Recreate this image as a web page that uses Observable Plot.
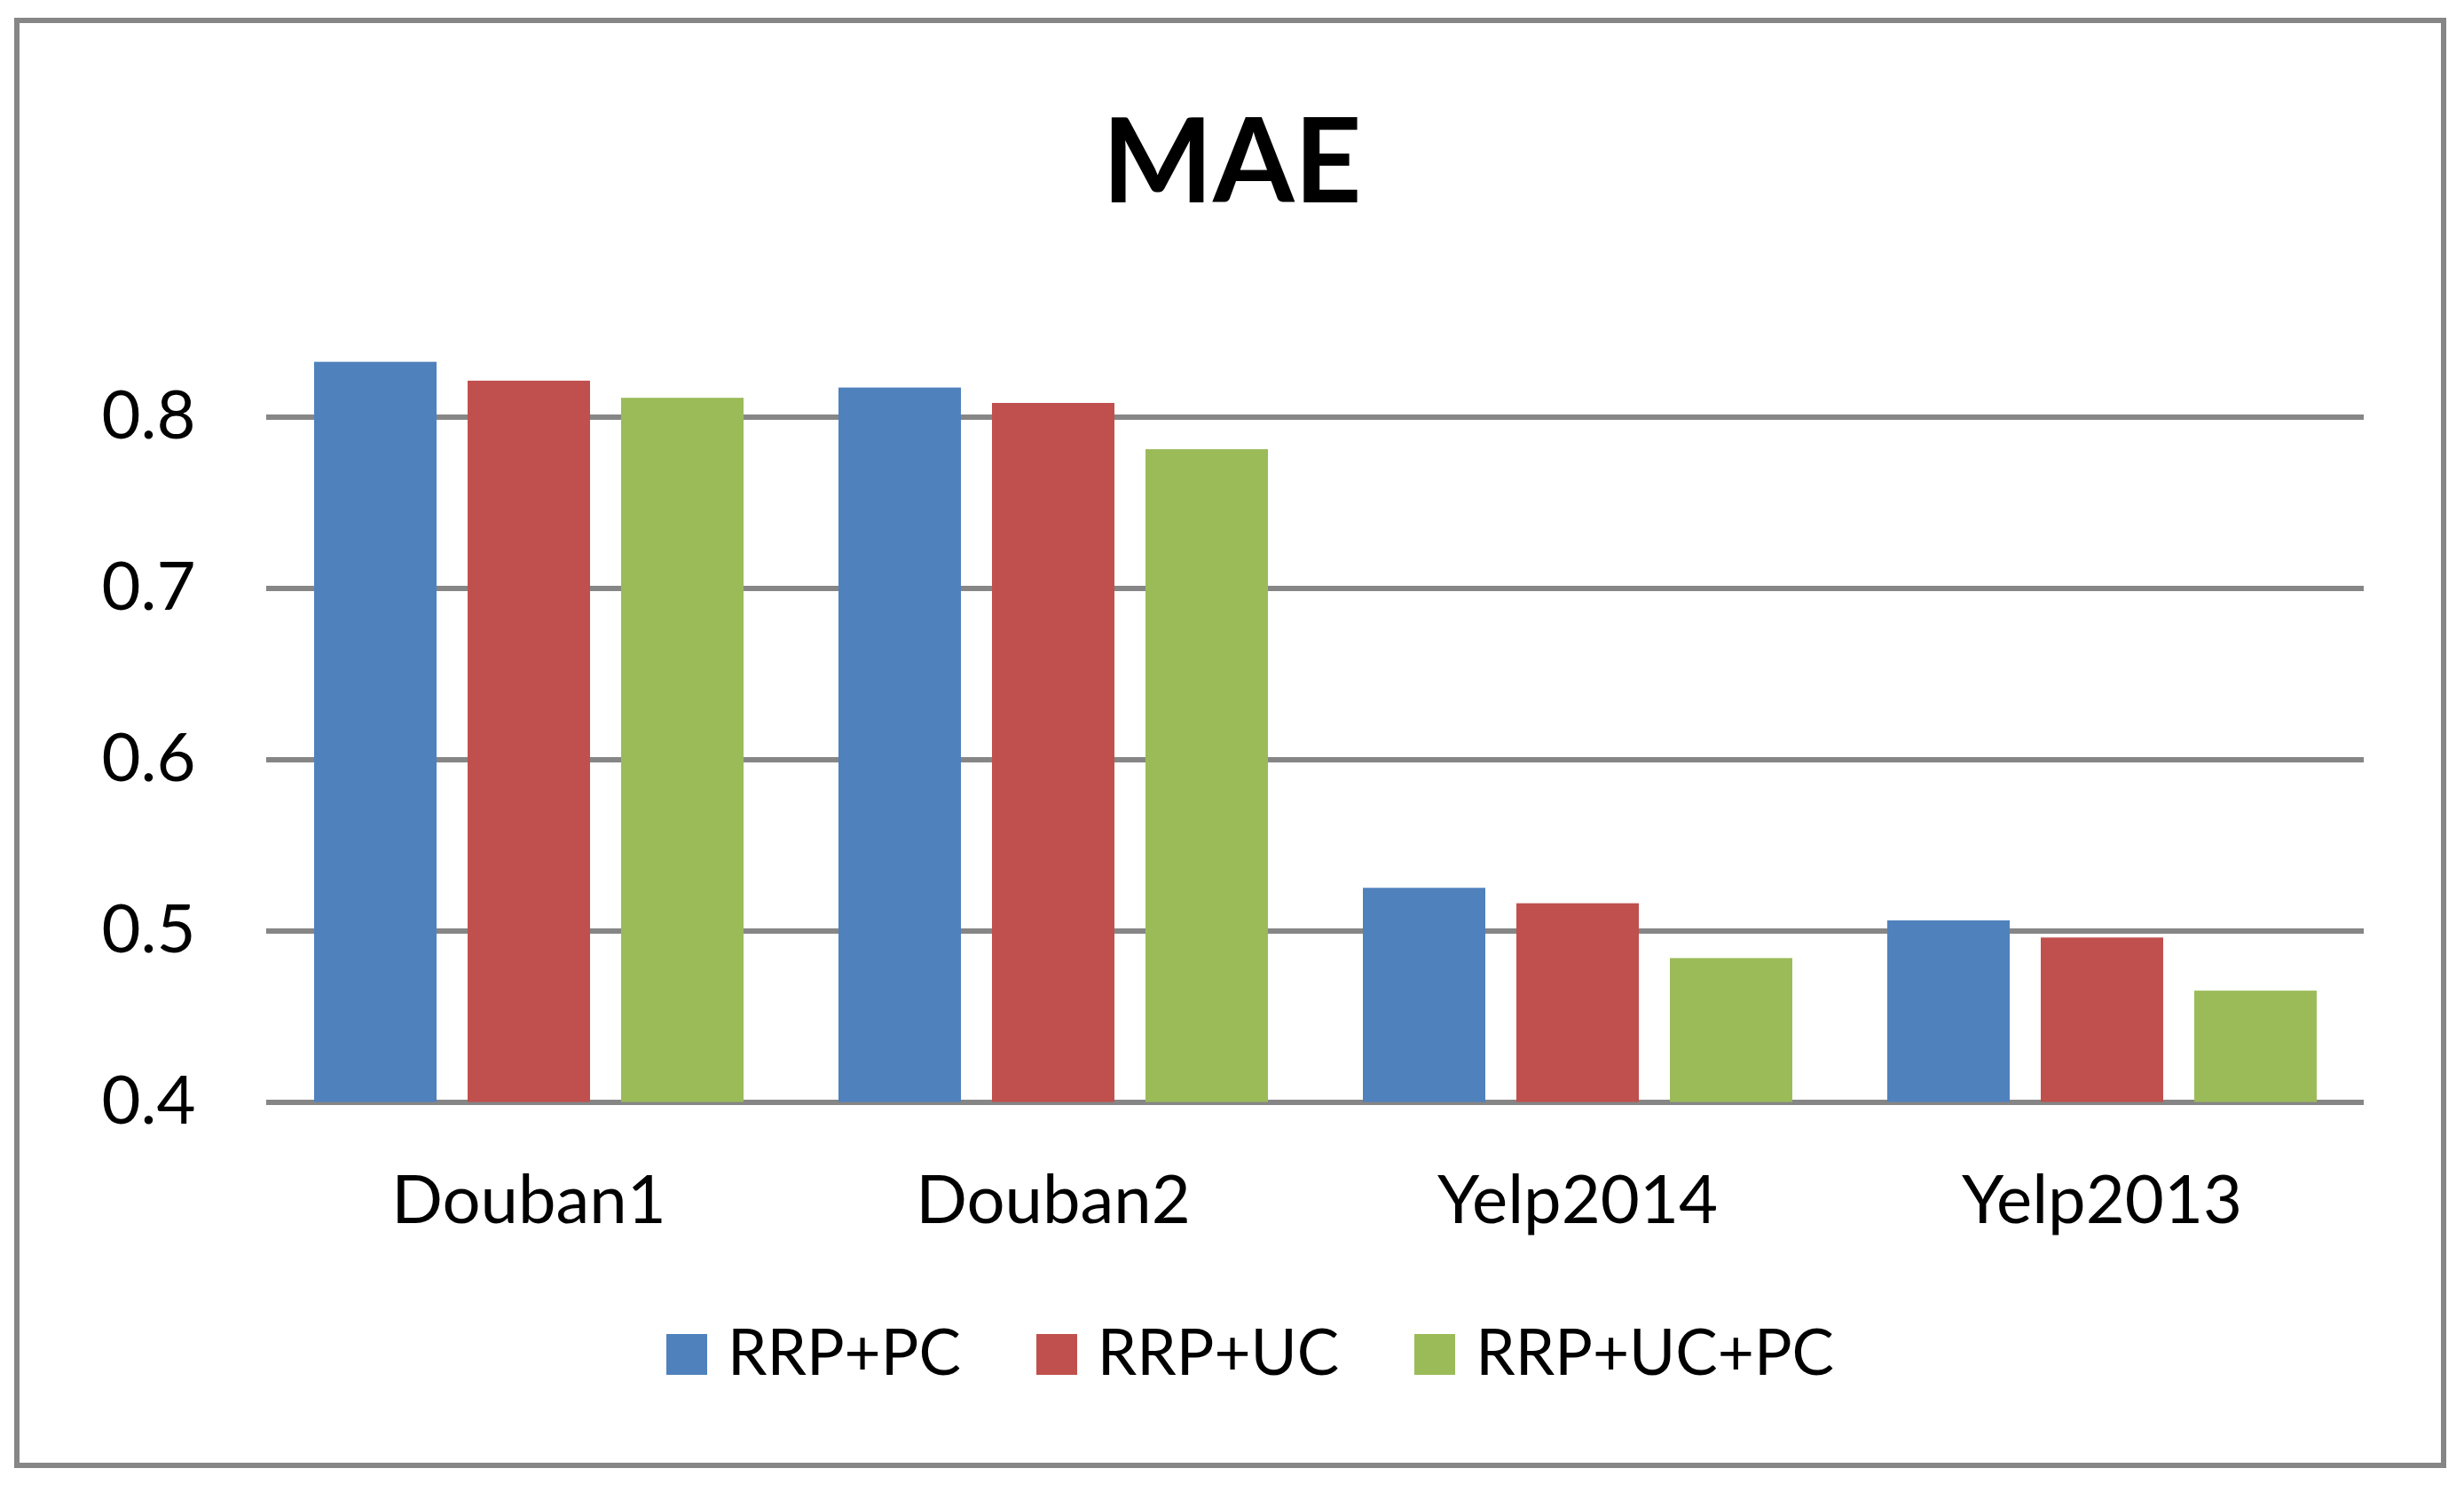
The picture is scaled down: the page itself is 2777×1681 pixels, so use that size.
<!DOCTYPE html>
<html>
<head>
<meta charset="utf-8">
<script src="https://cdn.jsdelivr.net/npm/d3@7"></script>
<script src="https://cdn.jsdelivr.net/npm/@observablehq/plot@0.6"></script>
<style>
  html, body { margin: 0; padding: 0; background: #fff; }
  #wrap { position: relative; width: 2777px; height: 1681px; overflow: hidden; font-family: Lato, "Open Sans", sans-serif; }
  #frame { position: absolute; left: 16px; top: 20px; width: 2741px; height: 1634px; box-sizing: border-box; border: 6px solid #868686; z-index: 3; pointer-events: none; }
  #title { position: absolute; left: 0; top: 111px; width: 2777px; text-align: center; font: 700 132px/1 Lato, sans-serif; color: #000; z-index: 2; }
  #chart { position: absolute; left: 0; top: 300px; z-index: 1; }
  #legend { position: absolute; left: 751px; top: 1486px; display: flex; align-items: flex-start; z-index: 2; }
  .item { display: flex; align-items: flex-start; margin-right: 85px; }
  .sw { width: 46px; height: 46px; margin-top: 17px; margin-right: 23px; }
  .lab { font: 400 71px/1 Lato, sans-serif; color: #000; white-space: nowrap; }
</style>
</head>
<body>
<div id="wrap">
  <div id="frame"></div>
  <div id="title"></div>
  <div id="chart"></div>
  <div id="legend"></div>
</div>
<script>
const titleText = "MAE";
const categories = ["Douban1", "Douban2", "Yelp2014", "Yelp2013"];
const seriesNames = ["RRP+PC", "RRP+UC", "RRP+UC+PC"];
const rrpPC   = [0.832, 0.817, 0.525, 0.506];
const rrpUC   = [0.821, 0.808, 0.516, 0.496];
const rrpUCPC = [0.811, 0.781, 0.484, 0.465];
const yTicks = [0.4, 0.5, 0.6, 0.7, 0.8];
const yDomain = [0.4, 0.85];
const baseline = 0.4;
const colors = ["#4F81BD", "#C0504D", "#9BBB59"];

const seriesValues = [rrpPC, rrpUC, rrpUCPC];
const data = [];
categories.forEach((c, i) => {
  seriesNames.forEach((s, j) => {
    data.push({category: c, series: s, value: seriesValues[j][i]});
  });
});

document.getElementById("title").textContent = titleText;

const chart = Plot.plot({
  width: 2777,
  height: 1150,
  marginTop: 72.9,
  marginBottom: 208.4,
  marginLeft: 299,
  marginRight: 112,
  style: {fontFamily: "Lato, sans-serif", fontSize: "76px", color: "#000", background: "transparent"},
  fx: {domain: categories, padding: 0},
  x: {domain: seriesNames, paddingInner: 0.204, paddingOuter: 0.306, axis: null},
  y: {domain: yDomain, axis: null},
  color: {domain: seriesNames, range: colors},
  marks: [
    Plot.gridY(yTicks, {stroke: "#868686", strokeOpacity: 1, strokeWidth: 6}),
    Plot.barY(data, {fx: "category", x: "series", y1: baseline, y2: "value", fill: "series"}),
    Plot.axisY(yTicks, {tickSize: 0, tickPadding: 80, tickFormat: d3.format(".1f"), fontSize: 76, label: null}),
    Plot.axisFx({anchor: "bottom", tickSize: 0, tickPadding: 82, fontSize: 76, label: null})
  ]
});
document.getElementById("chart").appendChild(chart);

const legend = document.getElementById("legend");
seriesNames.forEach((s, i) => {
  const item = document.createElement("div");
  item.className = "item";
  const sw = document.createElement("div");
  sw.className = "sw";
  sw.style.background = colors[i];
  const lab = document.createElement("div");
  lab.className = "lab";
  lab.textContent = s;
  item.appendChild(sw);
  item.appendChild(lab);
  legend.appendChild(item);
});
</script>
</body>
</html>
